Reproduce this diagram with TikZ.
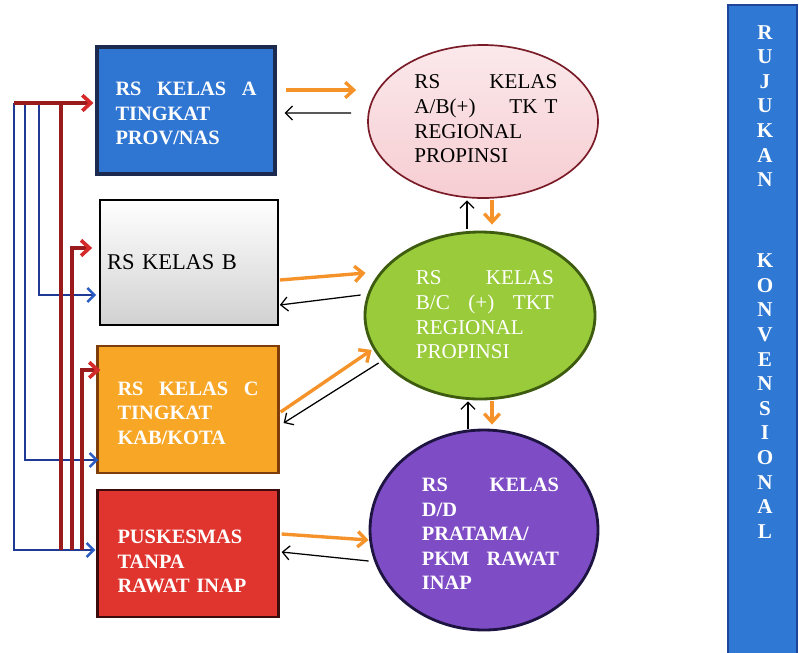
\documentclass[tikz,border=0pt]{standalone}
\usepackage{fontspec}
\setmainfont{Liberation Serif}
\usetikzlibrary{calc,shapes.geometric,arrows.meta}
\newcommand{\pxu}{0.025cm}
\definecolor{boxblue}{HTML}{2F75D2}
\definecolor{boxnavy}{HTML}{1B2A4E}
\definecolor{boxorange}{HTML}{F8A626}
\definecolor{boxbrown}{HTML}{7E3E0C}
\definecolor{boxred}{HTML}{E0342E}
\definecolor{boxdarkred}{HTML}{3C0C0C}
\definecolor{ovalpink}{HTML}{F6CDD2}
\definecolor{ovalwine}{HTML}{7A1C28}
\definecolor{ovalgreen}{HTML}{9ACB3B}
\definecolor{ovalolive}{HTML}{3E5C10}
\definecolor{ovalpurple}{HTML}{7E4DC6}
\definecolor{ovalink}{HTML}{1E1442}
\definecolor{arroworange}{HTML}{F5932A}
\definecolor{linkblue}{HTML}{1F3A94}
\definecolor{tipblue}{HTML}{2A5CC2}
\definecolor{linkred}{HTML}{9A1B1B}
\definecolor{tipred}{HTML}{D42A2A}
\definecolor{barblue}{HTML}{2F78D4}
\definecolor{barnavy}{HTML}{1E4597}
\tikzset{
  levelbox/.style={rectangle, draw, line width=1.6pt, minimum width=178*\pxu,
    minimum height=127*\pxu, inner xsep=18*\pxu, inner ysep=0pt, align=left},
  levelfont/.style={font=\bfseries\fontsize{14.5}{17.5}\selectfont, text=white},
  oval/.style={ellipse, draw, line width=1.6pt, inner sep=0pt},
  ovaltxt/.style={anchor=west, inner sep=0pt, align=left, font=\fontsize{15}{17.5}\selectfont},
  fwd/.style={arroworange, line width=2.4pt, -{Straight Barb[length=6pt,width=11pt]}},
  retarrow/.style={black, line width=0.9pt, -{Straight Barb[length=5pt,width=10pt]}},
  uplink/.style={linkred, line width=2.6pt, -{Straight Barb[length=6pt,width=11pt,color=tipred]}},
  downlink/.style={linkblue, line width=1.8pt, -{Straight Barb[length=5pt,width=10pt,color=tipblue]}},
}

\begin{document}
\begin{tikzpicture}[x=\pxu, y=-\pxu]
	%%%%% START %%%%%
	\useasboundingbox (0,0) rectangle (799,652);

	% boxes on the left
	\node[levelbox, levelfont, fill=boxblue, draw=boxnavy, line width=2.2pt, text width=141*\pxu] (boxA) at (186,110.5)
		{\rule{0pt}{14pt}RS\hfill KELAS\hfill A\\TINGKAT\\PROV/NAS};
	\node[levelbox, top color=white, bottom color=black!18, draw=black, line width=1.2pt, inner xsep=7*\pxu,
		text width=164*\pxu, minimum height=125*\pxu, font=\fontsize{16}{18}\selectfont] (boxB) at (189,262.5)
		{RS KELAS B};
	\node[levelbox, levelfont, fill=boxorange, draw=boxbrown, text width=141*\pxu, inner xsep=20*\pxu] (boxC) at (188,409.5)
		{\rule{0pt}{15pt}RS\hfill KELAS\hfill C\\TINGKAT\\KAB/KOTA};
	\node[levelbox, levelfont, fill=boxred, draw=boxdarkred, text width=141*\pxu, inner xsep=20*\pxu] (boxP) at (188,553.5)
		{\rule{0pt}{21pt}PUSKESMAS\\TANPA\\RAWAT INAP};

	% ovals
	\node[oval, top color=ovalpink!45!white, bottom color=ovalpink, draw=ovalwine, line width=1.2pt,
		minimum width=230*\pxu, minimum height=153*\pxu] (ellA) at (483,121.5) {};
	\node[ovaltxt, text width=143*\pxu] (ellAtxt) at ($(ellA.west)+(47,-2.5)$)
		{RS\hfill KELAS\\A/B(+)\hfill TK T\\REGIONAL\\PROPINSI};
	\node[oval, fill=ovalgreen, draw=ovalolive, line width=2pt,
		minimum width=230*\pxu, minimum height=167*\pxu] (ellB) at (480,315.5) {};
	\node[ovaltxt, text=white, text width=138*\pxu] (ellBtxt) at ($(ellB.west)+(52,-0.5)$)
		{RS\hfill KELAS\\B/C\hfill (+)\hfill TKT\\REGIONAL\\PROPINSI};
	\node[oval, fill=ovalpurple, draw=ovalink, line width=2pt,
		minimum width=228*\pxu, minimum height=200*\pxu] (ellC) at (484,530) {};
	\node[ovaltxt, text=white, text width=137*\pxu, font=\bfseries\fontsize{14.5}{17.5}\selectfont] (ellCtxt)
		at ($(ellC.west)+(53,4)$)
		{RS\hfill KELAS\\D/D\\PRATAMA/\\PKM\hfill RAWAT\\INAP};

	% side bar
	\node[rectangle, fill=barblue, draw=barnavy, line width=1.5pt, minimum width=69*\pxu,
		minimum height=655*\pxu, inner sep=0pt] (bar) at (762.5,332.5) {};
	\node[anchor=north, inner sep=0pt, align=center, text=white,
		font=\bfseries\fontsize{15}{17.5}\selectfont] (barword) at (765,25)
		{R\\U\\J\\U\\K\\A\\N\\[40pt]K\\O\\N\\V\\E\\N\\S\\I\\O\\N\\A\\L};

	% box <-> oval arrows
	\draw[fwd] ($(boxA.east)+(9,-20.5)$) -- ($(ellA.west)+(-11,-31.5)$);
	\draw[retarrow] ($(ellA.west)+(-16,-8.5)$) -- ($(boxA.east)+(8,2.5)$);
	\draw[fwd] ($(boxB.east)+(1,17.5)$) -- ($(ellB.west)+(2,-42.5)$);
	\draw[retarrow] ($(ellB.west)+(-3,-20.5)$) -- ($(boxB.east)+(1,42.5)$);
	\draw[fwd] ($(boxC.east)+(1,2.5)$) -- ($(ellB.west)+(8,34.5)$);
	\draw[retarrow] ($(ellB.west)+(15,47.5)$) -- ($(boxC.east)+(4,13.5)$);
	\draw[fwd] ($(boxP.east)+(2,-19.5)$) -- ($(ellC.west)+(0,10)$);
	\draw[retarrow] ($(ellC.west)+(0,31)$) -- ($(boxP.east)+(2,-1.5)$);

	% oval <-> oval arrows
	\draw[retarrow] ($(ellB.north)+(-13,-2)$) -- ($(ellA.south)+(-16,1.5)$);
	\draw[fwd] ($(ellA.south)+(9,1)$) -- ($(ellB.north)+(12,-6)$);
	\draw[retarrow] ($(ellC.north)+(-16,0)$) -- ($(ellB.south)+(-12,1)$);
	\draw[fwd] ($(ellB.south)+(12,1)$) -- ($(ellC.north)+(8,-4)$);

	% rails on the left
	\coordinate (railP) at (14,103);
	\coordinate (railC) at (25,103);
	\coordinate (railB) at (39,103);
	\coordinate (footA) at (61,550);
	\coordinate (footB) at (72,550);
	\coordinate (footC) at (82,550);
	\draw[downlink] (railP) |- ($(boxP.west)+(-1,-3.5)$);
	\draw[downlink] (railC) |- ($(boxC.west)+(2,50.5)$);
	\draw[downlink] (railB) |- ($(boxB.west)+(-3,32.5)$);
	\draw[linkred, line width=2.6pt] (railP) -- (footA |- railP);
	\draw[uplink] (footA) |- ($(boxA.west)+(-2,-7.5)$);
	\draw[uplink] (footB) |- ($(boxB.west)+(-7,-14.5)$);
	\draw[uplink] (footC) |- ($(boxC.west)+(4,-39.5)$);
	%%%%% END %%%%%
\end{tikzpicture}
\end{document}
